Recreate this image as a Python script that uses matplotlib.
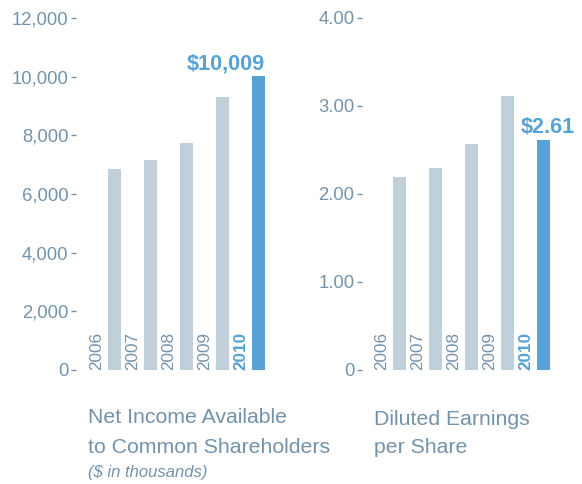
import numpy as np
import matplotlib
matplotlib.use("Agg")
import matplotlib.pyplot as plt

years = ["2006", "2007", "2008", "2009", "2010"]
net_income = [6850, 7160, 7740, 9310, 10009]
eps = [2.19, 2.30, 2.57, 3.11, 2.61]

income_ticks = [0, 2000, 4000, 6000, 8000, 10000, 12000]
income_ticklabels = ["0", "2,000", "4,000", "6,000", "8,000", "10,000", "12,000"]
eps_ticks = [0, 1, 2, 3, 4]
eps_ticklabels = ["0", "1.00", "2.00", "3.00", "4.00"]

GREY = "#bfd0da"
BLUE = "#58a2d5"
TXT = "#7393ab"

plt.rcParams["font.family"] = ["Liberation Sans", "DejaVu Sans"]

W, H = 582, 484
fig = plt.figure(figsize=(W / 100, H / 100), dpi=100)


def px_axes(left, right, top, bottom):
    return fig.add_axes([left / W, 1 - bottom / H, (right - left) / W, (bottom - top) / H])


def panel(ax, vals, ymax, ticks, ticklabels, first_center, ax_left, ax_right, label, label_x):
    x = np.arange(len(vals))
    colors = [GREY] * (len(vals) - 1) + [BLUE]
    ax.bar(x, vals, width=13 / 36, color=colors)
    ax.set_xlim((ax_left - first_center) / 36, (ax_right - first_center) / 36)
    ax.set_ylim(0, ymax)
    for s in ax.spines.values():
        s.set_visible(False)
    ax.set_xticks([])
    ax.set_yticks(ticks)
    ax.set_yticklabels(ticklabels)
    ax.tick_params(axis="y", length=3.5, width=1, color=TXT, pad=2,
                   labelsize=13.3, labelcolor=TXT)
    for i, yr in enumerate(years):
        last = i == len(years) - 1
        ax.text(i - 0.49, 0, yr, rotation=90, ha="center", va="bottom",
                fontsize=12.3, color=BLUE if last else TXT,
                fontweight="bold" if last else "normal")
    ax.annotate(label, (label_x, vals[-1]), xytext=(0, 5), textcoords="offset points",
                ha="right", va="baseline", fontsize=15.6, fontweight="bold", color=BLUE)


ax1 = px_axes(76, 272, 18, 370)
panel(ax1, net_income, 12000, income_ticks, income_ticklabels, 114.5, 76, 272,
      "$10,009", 4.18)

ax2 = px_axes(362, 580, 18, 370)
panel(ax2, eps, 4, eps_ticks, eps_ticklabels, 399.5, 362, 580,
      "$2.61", 4.88)

fig.text(88 / W, 1 - 423 / H, "Net Income Available", fontsize=15.3, color=TXT)
fig.text(88 / W, 1 - 453 / H, "to Common Shareholders", fontsize=15.3, color=TXT)
fig.text(88 / W, 1 - 477 / H, "($ in thousands)", fontsize=12, style="italic", color=TXT)
fig.text(374 / W, 1 - 425 / H, "Diluted Earnings", fontsize=15.3, color=TXT)
fig.text(374 / W, 1 - 453 / H, "per Share", fontsize=15.3, color=TXT)

fig.savefig("out.png", dpi=100)
